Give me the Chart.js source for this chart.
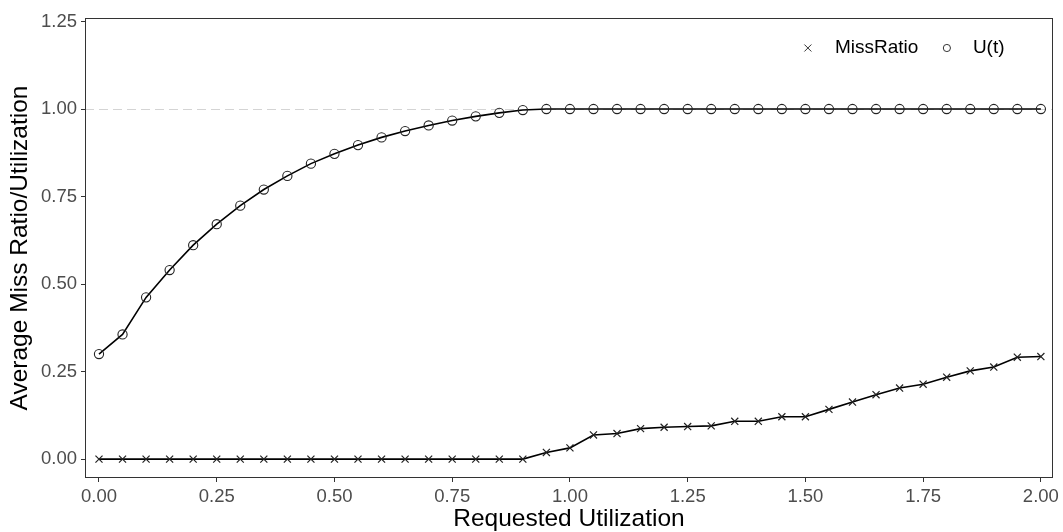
<!DOCTYPE html>
<html>
<head>
<meta charset="utf-8">
<script src="https://cdn.jsdelivr.net/npm/chart.js@4.4.1/dist/chart.umd.min.js"></script>
<style>
    html, body { margin: 0; padding: 0; background: #fff; }
    #wrap { width: 1063px; height: 532px; }
</style>
</head>
<body>
<div id="wrap"><canvas id="chart"></canvas></div>
<script>
// requested utilization (x)
const requested = [0.00, 0.05, 0.10, 0.15, 0.20, 0.25, 0.30, 0.35, 0.40, 0.45,
    0.50, 0.55, 0.60, 0.65, 0.70, 0.75, 0.80, 0.85, 0.90, 0.95,
    1.00, 1.05, 1.10, 1.15, 1.20, 1.25, 1.30, 1.35, 1.40, 1.45,
    1.50, 1.55, 1.60, 1.65, 1.70, 1.75, 1.80, 1.85, 1.90, 1.95, 2.00];

// average miss ratio
const missRatio = [0, 0, 0, 0, 0, 0, 0, 0, 0, 0,
    0, 0, 0, 0, 0, 0, 0, 0, 0, 0.019,
    0.032, 0.069, 0.073, 0.087, 0.091, 0.093, 0.095, 0.108, 0.108, 0.121,
    0.121, 0.142, 0.163, 0.184, 0.203, 0.214, 0.234, 0.252, 0.263, 0.291, 0.293];

// U(t)
const utilization = [0.300, 0.356, 0.462, 0.540, 0.611, 0.671, 0.724, 0.770, 0.809, 0.844,
    0.872, 0.897, 0.919, 0.937, 0.953, 0.967, 0.979, 0.989, 0.997, 1.0,
    1.0, 1.0, 1.0, 1.0, 1.0, 1.0, 1.0, 1.0, 1.0, 1.0,
    1.0, 1.0, 1.0, 1.0, 1.0, 1.0, 1.0, 1.0, 1.0, 1.0, 1.0];

const xTicks = [0, 0.25, 0.5, 0.75, 1, 1.25, 1.5, 1.75, 2];
const yTicks = [0, 0.25, 0.5, 0.75, 1, 1.25];
const refLine = 1;

const FONT = "'Liberation Sans', Arial, sans-serif";

function toPoints(ys) {
    return requested.map((x, i) => ({ x: x, y: ys[i] }));
}

// panel border, dashed reference line and the in-panel legend
const panelPlugin = {
    id: 'panel',
    beforeDatasetsDraw(chart) {
        const ctx = chart.ctx;
        const a = chart.chartArea;
        const py = Math.round(chart.scales.y.getPixelForValue(refLine)) + 0.5;
        ctx.save();
        ctx.strokeStyle = '#d4d4d4';
        ctx.lineWidth = 1;
        ctx.setLineDash([9, 5]);
        ctx.beginPath();
        ctx.moveTo(a.left, py);
        ctx.lineTo(a.right, py);
        ctx.stroke();
        ctx.restore();
    },
    afterDraw(chart) {
        const ctx = chart.ctx;
        const a = chart.chartArea;
        ctx.save();
        ctx.strokeStyle = '#333';
        ctx.lineWidth = 1;
        ctx.strokeRect(Math.round(a.left) + 0.5, Math.round(a.top) + 0.5,
            Math.round(a.right - a.left) - 1, Math.round(a.bottom - a.top) - 1);

        // legend
        const cy = a.top + 30;
        const items = [
            { style: 'cross', label: chart.data.datasets[0].label, mx: a.right - 245, tx: a.right - 218 },
            { style: 'circle', label: chart.data.datasets[1].label, mx: a.right - 106, tx: a.right - 80 }
        ];
        ctx.strokeStyle = '#333';
        ctx.lineWidth = 1;
        items.forEach(it => {
            ctx.beginPath();
            if (it.style === 'cross') {
                const r = 3.5;
                ctx.moveTo(it.mx - r, cy - r); ctx.lineTo(it.mx + r, cy + r);
                ctx.moveTo(it.mx + r, cy - r); ctx.lineTo(it.mx - r, cy + r);
            } else {
                ctx.arc(it.mx, cy, 3.6, 0, Math.PI * 2);
            }
            ctx.stroke();
            ctx.fillStyle = '#000';
            ctx.font = '19px ' + FONT;
            ctx.textBaseline = 'middle';
            ctx.textAlign = 'left';
            ctx.fillText(it.label, it.tx, cy);
        });
        ctx.restore();
    }
};

const ctx = document.getElementById('chart').getContext('2d');
const myChart = new Chart(ctx, {
    type: 'line',
    data: {
        datasets: [{
            label: 'MissRatio',
            data: toPoints(missRatio),
            borderColor: '#000',
            borderWidth: 1.6,
            pointStyle: 'crossRot',
            pointRadius: 5,
            pointBorderWidth: 1.2,
            pointBorderColor: '#222',
            pointBackgroundColor: 'rgba(0,0,0,0)',
            tension: 0
        }, {
            label: 'U(t)',
            data: toPoints(utilization),
            borderColor: '#000',
            borderWidth: 1.6,
            pointStyle: 'circle',
            pointRadius: 4.6,
            pointBorderWidth: 1.1,
            pointBorderColor: '#222',
            pointBackgroundColor: 'rgba(0,0,0,0)',
            tension: 0
        }]
    },
    options: {
        responsive: true,
        maintainAspectRatio: false,
        animation: false,
        layout: { padding: { top: 18, right: 10, left: 0, bottom: 0 } },
        plugins: {
            legend: { display: false },
            tooltip: { enabled: false }
        },
        scales: {
            x: {
                type: 'linear',
                min: -0.0297,
                max: 2.0255,
                afterBuildTicks: (scale) => { scale.ticks = xTicks.map(v => ({ value: v })); },
                afterFit: (scale) => { scale.height = 54; },
                grid: { drawOnChartArea: false, tickLength: 4, tickColor: '#333', tickWidth: 1 },
                border: { display: false },
                ticks: {
                    color: '#4d4d4d',
                    font: { family: FONT, size: 18.5 },
                    padding: 4,
                    maxRotation: 0,
                    callback: (v) => v.toFixed(2)
                },
                title: {
                    display: true,
                    text: 'Requested Utilization',
                    color: '#000',
                    font: { family: FONT, size: 24.5 },
                    padding: { top: 0, bottom: -2 }
                }
            },
            y: {
                type: 'linear',
                min: -0.054,
                max: 1.26,
                afterBuildTicks: (scale) => { scale.ticks = yTicks.map(v => ({ value: v })); },
                afterFit: (scale) => { scale.width = 85; },
                grid: { drawOnChartArea: false, tickLength: 4, tickColor: '#333', tickWidth: 1 },
                border: { display: false },
                ticks: {
                    color: '#4d4d4d',
                    font: { family: FONT, size: 18.5 },
                    padding: 4,
                    callback: (v) => v.toFixed(2)
                },
                title: {
                    display: true,
                    text: 'Average Miss Ratio/Utilization',
                    color: '#000',
                    font: { family: FONT, size: 24.5 },
                    padding: { top: 6, bottom: 0 }
                }
            }
        }
    },
    plugins: [panelPlugin]
});
</script>
</body>
</html>
